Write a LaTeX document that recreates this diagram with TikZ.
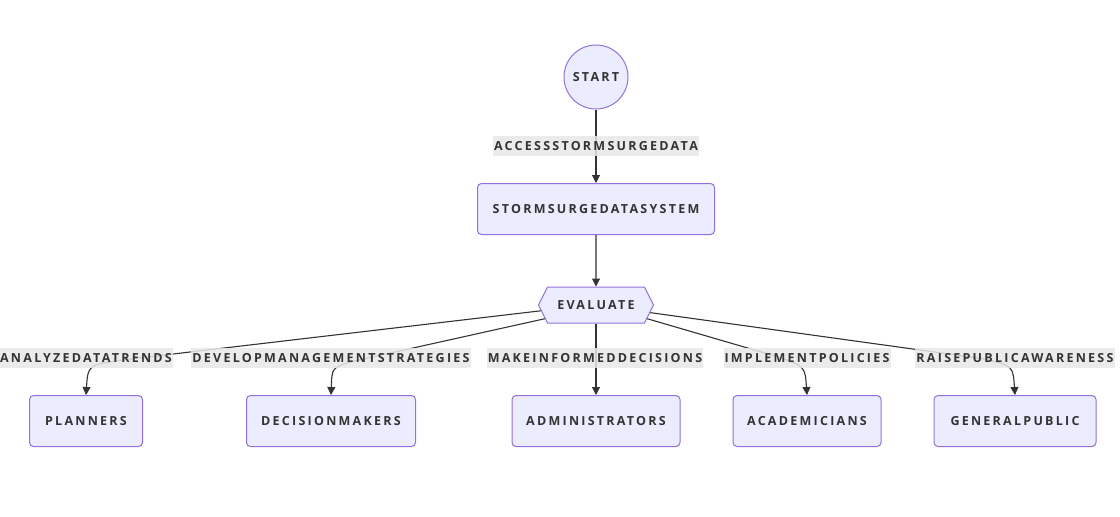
\documentclass[tikz,border=0pt]{standalone}
\usepackage{fontspec}
\newfontfamily\lblfont[LetterSpace=18]{Open Sans}
\usetikzlibrary{shapes.geometric,shapes.symbols,arrows.meta}
\definecolor{nodefill}{HTML}{ECECFF}
\definecolor{nodeline}{HTML}{9370DB}
\definecolor{ink}{HTML}{333333}
\definecolor{lblbg}{HTML}{E8E8E8}
\tikzset{
  txt/.style={font=\lblfont\bfseries\fontsize{12.5}{15}\selectfont, text=ink},
  boxnode/.style={txt, draw=nodeline, fill=nodefill, line width=1pt, rounded corners=4pt, minimum height=51pt, inner xsep=0pt},
  circnode/.style={txt, circle, draw=nodeline, fill=nodefill, line width=1pt, minimum size=64pt, inner sep=0pt},
  hexnode/.style={txt, signal, signal to=east and west, signal pointer angle=127, draw=nodeline, fill=nodefill, line width=1pt, minimum width=115pt, minimum height=36pt, inner xsep=0pt},
  elabel/.style={txt, fill=lblbg, fill opacity=0.85, text opacity=1, inner xsep=1pt, inner ysep=0pt, minimum height=20pt},
  edge/.style={draw=ink, line width=1.1pt, -{Triangle[length=8pt,width=8pt]}}
}
\begin{document}
\begin{tikzpicture}[x=1pt,y=-1pt]
\useasboundingbox (0,0) rectangle (1120,517);
% nodes
\node[circnode] (start) at (596,77) {START};
\node[boxnode, minimum width=237pt] (sys) at (596,209) {STORMSURGEDATASYSTEM};
\node[hexnode] (ev) at (596,305) {EVALUATE};
\node[boxnode, minimum width=113pt] (plan) at (86,421) {PLANNERS};
\node[boxnode, minimum width=169pt] (dec) at (331,421) {DECISIONMAKERS};
\node[boxnode, minimum width=168pt] (adm) at (596,421) {ADMINISTRATORS};
\node[boxnode, minimum width=148pt] (aca) at (807,421) {ACADEMICIANS};
\node[boxnode, minimum width=162pt] (gen) at (1015,421) {GENERALPUBLIC};
% bend points
\coordinate (b1) at (122,360);
\coordinate (c1) at (88,365);
\coordinate (b2) at (350,362);
\coordinate (c2) at (332,368);
\coordinate (b4) at (775,356);
\coordinate (c4) at (805,366);
\coordinate (b5) at (985,359);
\coordinate (c5) at (1013,366);
% edges
\draw[edge] (start) -- (sys);
\draw[edge] (sys) -- (ev);
\draw[edge] (ev.186) -- (b1) .. controls (c1) .. (plan.north);
\draw[edge] (ev.195) -- (b2) .. controls (c2) .. (dec.north);
\draw[edge] (ev) -- (adm);
\draw[edge] (ev.345) -- (b4) .. controls (c4) .. (aca.north);
\draw[edge] (ev.352) -- (b5) .. controls (c5) .. (gen.north);
% labels
\node[elabel] (l0) at (596,146) {ACCESSSTORMSURGEDATA};
\node[elabel] (l1) at (86,358) {ANALYZEDATATRENDS};
\node[elabel] (l2) at (331,358) {DEVELOPMANAGEMENTSTRATEGIES};
\node[elabel] (l3) at (595,358) {MAKEINFORMEDDECISIONS};
\node[elabel] (l4) at (807,358) {IMPLEMENTPOLICIES};
\node[elabel] (l5) at (1015,358) {RAISEPUBLICAWARENESS};
\end{tikzpicture}
\end{document}
